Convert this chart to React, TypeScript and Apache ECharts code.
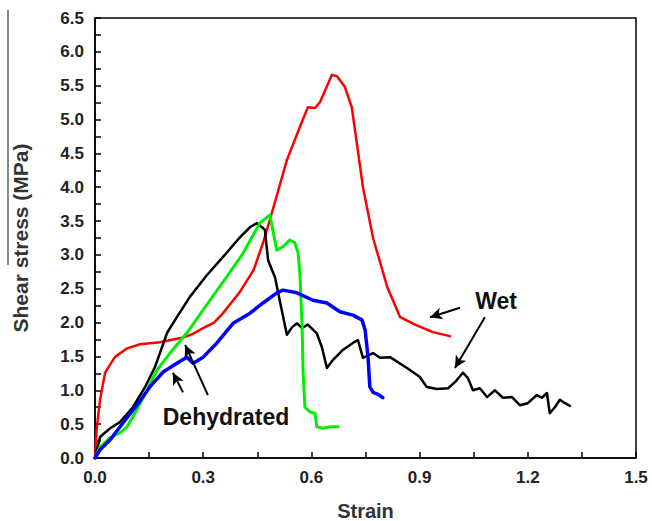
import React, { useEffect, useRef } from "react";
import * as echarts from "echarts";

const wetRed: number[][] = [
  [0, 0], [0.005, 0.45], [0.014, 0.86], [0.028, 1.26], [0.055, 1.49], [0.089, 1.62],
  [0.125, 1.68], [0.18, 1.71], [0.244, 1.78], [0.27, 1.83], [0.3, 1.92], [0.33, 2.0],
  [0.355, 2.14], [0.4, 2.44], [0.44, 2.78], [0.466, 3.18], [0.485, 3.52], [0.5, 3.8],
  [0.532, 4.4], [0.568, 4.89], [0.59, 5.18], [0.61, 5.17], [0.624, 5.26], [0.657, 5.66],
  [0.671, 5.64], [0.693, 5.48], [0.712, 5.18], [0.726, 4.65], [0.743, 4.0], [0.771, 3.25],
  [0.81, 2.53], [0.846, 2.08], [0.892, 1.96], [0.937, 1.86], [0.984, 1.8],
];

const wetBlack: number[][] = [
  [0, 0], [0.014, 0.31], [0.042, 0.44], [0.069, 0.53], [0.105, 0.75], [0.139, 1.05],
  [0.166, 1.34], [0.18, 1.55], [0.2, 1.85], [0.227, 2.08], [0.263, 2.38], [0.31, 2.7],
  [0.355, 2.97], [0.4, 3.25], [0.43, 3.41], [0.449, 3.47], [0.463, 3.41], [0.471, 3.37],
  [0.48, 2.92], [0.499, 2.67], [0.518, 2.18], [0.532, 1.82], [0.546, 1.93], [0.56, 1.99],
  [0.574, 1.92], [0.59, 1.97], [0.615, 1.84], [0.629, 1.64], [0.643, 1.33], [0.66, 1.45],
  [0.688, 1.6], [0.715, 1.7], [0.729, 1.74], [0.743, 1.48], [0.771, 1.55], [0.79, 1.48],
  [0.818, 1.49], [0.865, 1.33], [0.9, 1.2], [0.92, 1.05], [0.948, 1.02], [0.979, 1.03],
  [0.998, 1.12], [1.02, 1.26], [1.034, 1.18], [1.048, 1.0], [1.067, 1.03], [1.087, 0.9],
  [1.109, 1.0], [1.131, 0.89], [1.156, 0.9], [1.178, 0.78], [1.2, 0.81], [1.225, 0.93],
  [1.239, 0.89], [1.253, 0.96], [1.261, 0.66], [1.275, 0.75], [1.289, 0.86], [1.303, 0.81],
  [1.317, 0.77],
];

const dryGreen: number[][] = [
  [0, 0], [0.014, 0.16], [0.042, 0.3], [0.069, 0.37], [0.089, 0.46], [0.116, 0.71],
  [0.144, 1.0], [0.172, 1.3], [0.208, 1.55], [0.255, 1.85], [0.3, 2.19], [0.355, 2.6],
  [0.41, 3.02], [0.457, 3.47], [0.485, 3.59], [0.504, 3.07], [0.521, 3.12], [0.54, 3.22],
  [0.554, 3.18], [0.563, 3.03], [0.568, 2.73], [0.574, 1.99], [0.577, 1.26], [0.582, 0.75],
  [0.596, 0.68], [0.61, 0.66], [0.615, 0.46], [0.632, 0.44], [0.651, 0.46], [0.674, 0.46],
];

const dryBlue: number[][] = [
  [0, 0], [0.014, 0.12], [0.042, 0.27], [0.078, 0.52], [0.116, 0.78], [0.152, 1.05],
  [0.189, 1.27], [0.227, 1.4], [0.255, 1.49], [0.272, 1.4], [0.3, 1.49], [0.338, 1.7],
  [0.383, 1.99], [0.43, 2.14], [0.466, 2.29], [0.504, 2.44], [0.521, 2.48], [0.56, 2.44],
  [0.604, 2.33], [0.643, 2.29], [0.679, 2.16], [0.715, 2.11], [0.74, 2.04], [0.749, 1.89],
  [0.757, 1.49], [0.762, 1.05], [0.771, 0.97], [0.785, 0.94], [0.798, 0.89],
];

// annotation arrows [from, to] in data coordinates
const arrows: number[][][] = [
  [[1.012, 2.22], [0.929, 2.08]],
  [[1.081, 2.08], [0.998, 1.33]],
  [[0.244, 0.97], [0.216, 1.26]],
  [[0.313, 0.93], [0.25, 1.67]],
];

const FONT = "'Liberation Sans', Arial, sans-serif";

export default function App() {
  const ref = useRef<HTMLDivElement>(null);
  useEffect(() => {
    if (!ref.current) return;
    const chart = echarts.init(ref.current, null, { renderer: "svg" });
    const lineSeries = (data: number[][], color: string, width: number) => ({
      type: "line",
      data,
      showSymbol: false,
      symbol: "none",
      lineStyle: { color, width, join: "round", cap: "round" },
      z: 3,
    });
    chart.setOption({
      animation: false,
      backgroundColor: "#fff",
      grid: {
        left: 95,
        top: 18,
        right: 16,
        bottom: 63,
        containLabel: false,
        outerBoundsMode: "none",
        show: true,
        borderColor: "#000",
        borderWidth: 1.5,
      },
      xAxis: {
        type: "value",
        min: 0,
        max: 1.5,
        interval: 0.3,
        name: "Strain",
        nameLocation: "middle",
        nameGap: 43,
        nameTextStyle: { fontFamily: FONT, fontSize: 20, fontWeight: "bold", color: "#333" },
        axisLine: { show: true, onZero: false, lineStyle: { color: "#000", width: 1.5 } },
        axisTick: { show: true, inside: true, length: 6, lineStyle: { color: "#000", width: 1.5 } },
        minorTick: { show: true, splitNumber: 2, length: 6, lineStyle: { color: "#000", width: 1.5 } },
        splitLine: { show: false },
        axisLabel: {
          fontFamily: FONT,
          fontSize: 17,
          fontWeight: "bold",
          color: "#222",
          margin: 11,
          formatter: (v: number) => v.toFixed(1),
        },
      },
      yAxis: {
        type: "value",
        min: 0,
        max: 6.5,
        interval: 0.5,
        name: "Shear stress (MPa)",
        nameLocation: "middle",
        nameGap: 64,
        nameRotate: 90,
        nameTextStyle: { fontFamily: FONT, fontSize: 21, fontWeight: "bold", color: "#333" },
        axisLine: { show: true, onZero: false, lineStyle: { color: "#000", width: 1.5 } },
        axisTick: { show: true, inside: true, length: 6, lineStyle: { color: "#000", width: 1.5 } },
        minorTick: { show: true, splitNumber: 2, length: 6, lineStyle: { color: "#000", width: 1.5 } },
        splitLine: { show: false },
        axisLabel: {
          fontFamily: FONT,
          fontSize: 17,
          fontWeight: "bold",
          color: "#222",
          margin: 11,
          formatter: (v: number) => v.toFixed(1),
        },
      },
      series: [
        lineSeries(wetRed, "#ff0000", 2.5),
        lineSeries(wetBlack, "#000000", 2.5),
        lineSeries(dryGreen, "#00ee00", 3),
        lineSeries(dryBlue, "#0000ff", 3.5),
        {
          type: "line",
          data: [],
          markLine: {
            silent: true,
            symbol: ["none", "arrow"],
            symbolSize: [9, 12],
            label: { show: false },
            lineStyle: { color: "#000", width: 2, type: "solid" },
            data: arrows.map((a) => [{ coord: a[0] }, { coord: a[1] }]),
          },
        },
      ],
      graphic: [
        {
          type: "line",
          shape: { x1: 8, y1: 10, x2: 8, y2: 265 },
          style: { stroke: "#888", lineWidth: 2 },
        },
        {
          type: "text",
          x: 496,
          y: 301,
          style: {
            text: "Wet",
            fontFamily: FONT,
            fontSize: 23,
            fontWeight: "bold",
            fill: "#111",
            align: "center",
            verticalAlign: "middle",
          },
        },
        {
          type: "text",
          x: 226,
          y: 417,
          style: {
            text: "Dehydrated",
            fontFamily: FONT,
            fontSize: 23,
            fontWeight: "bold",
            fill: "#111",
            align: "center",
            verticalAlign: "middle",
          },
        },
      ],
    });
    return () => chart.dispose();
  }, []);
  return (
    <div
      ref={ref}
      style={{ position: "fixed", left: 0, top: 0, width: 652, height: 521 }}
    />
  );
}
